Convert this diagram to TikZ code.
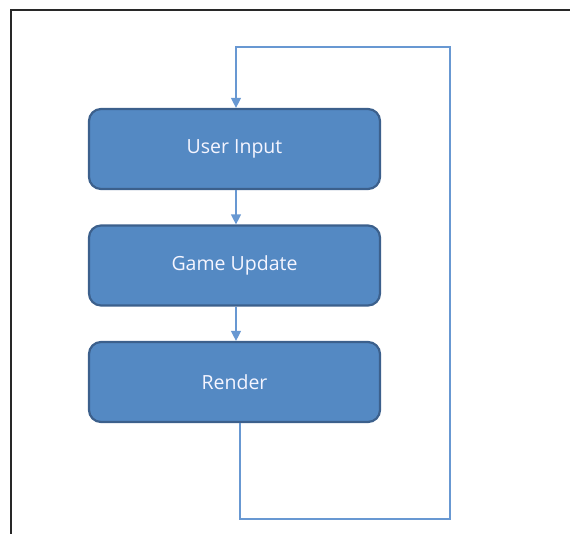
\documentclass[tikz,border=0pt]{standalone}
\usepackage{fontspec}
\setmainfont{Open Sans}
\usetikzlibrary{arrows.meta}
\definecolor{boxfill}{RGB}{84,137,195}
\definecolor{boxline}{RGB}{60,96,140}
\definecolor{wire}{RGB}{104,152,210}
\definecolor{framec}{RGB}{40,40,40}
\tikzset{
  stage/.style={draw=boxline, line width=2.2bp, fill=boxfill, rounded corners=12bp,
    minimum width=291bp, minimum height=80bp, inner sep=0pt,
    text=white!96!blue, font=\fontsize{19.5bp}{23bp}\selectfont},
  wireline/.style={draw=wire, line width=1.3bp},
  flow/.style={wireline, -{Triangle[length=10bp,width=10bp]}},
}
\begin{document}
\begin{tikzpicture}[x=1bp,y=-1bp]
\useasboundingbox (0,0) rectangle (570,534);
% outer frame (top and left edges only)
\draw[framec, line width=1.4bp] (570,10) -- (11,10) -- (11,534);
% the three stages of the loop
\node[stage] (ui)  at (234.5,149) {User Input};
\node[stage] (gu)  at (234.5,265.5) {Game Update};
\node[stage] (ren) at (234.5,382) {Render};
% turning points of the feedback path
\coordinate (b1) at (240,519);
\coordinate (b2) at (450,519);
\coordinate (t2) at (450,47);
\coordinate (t1) at (236,47);
% straight flow between stages
\draw[flow] (ui.south -| t1) -- (gu.north -| t1);
\draw[flow] (gu.south -| t1) -- (ren.north -| t1);
% feedback path back to the first stage
\draw[flow] (ren.south -| b1) -- (b1) -- (b2) -- (t2) -- (t1) -- (ui.north -| t1);
\end{tikzpicture}
\end{document}
